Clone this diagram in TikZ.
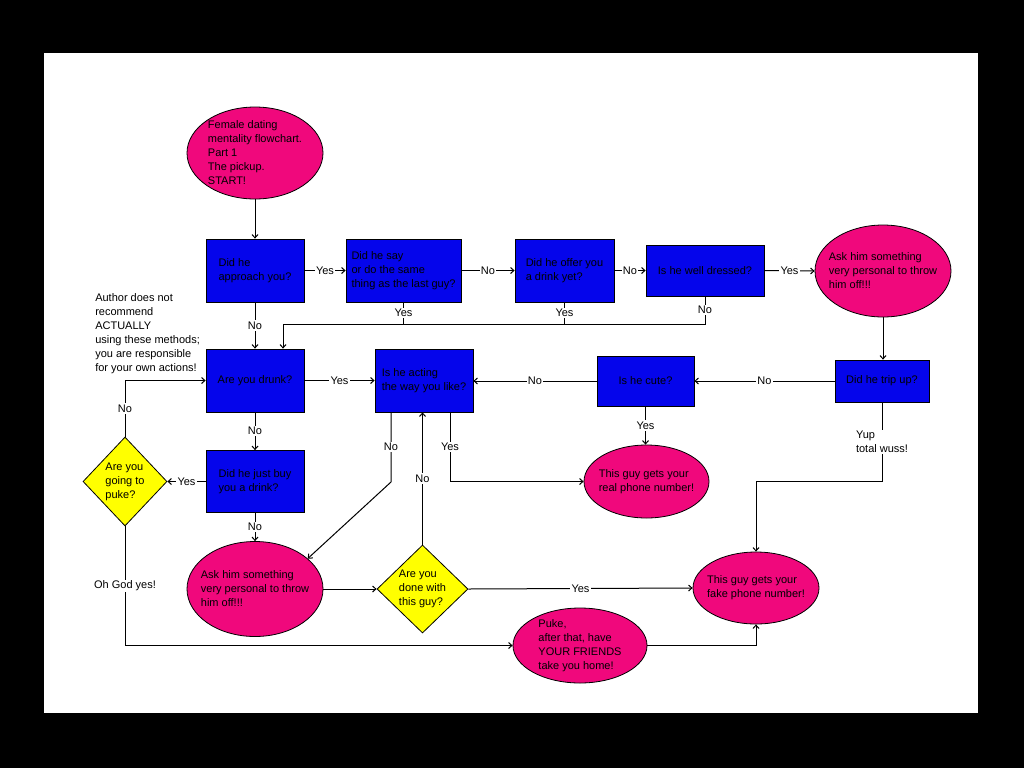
\documentclass[tikz,border=0pt]{standalone}
\usepackage{fontspec}
\setmainfont{Liberation Sans}
\usetikzlibrary{shapes.geometric,arrows.meta,calc}
\definecolor{fcblue}{RGB}{5,5,235}
\definecolor{fcpink}{RGB}{240,8,124}
\definecolor{fcyellow}{RGB}{255,255,0}
\newcommand{\fcfont}{\fontsize{8.25}{10.5}\selectfont}
\tikzset{
  base/.style={draw=black, line width=0.6pt, inner sep=0pt, font=\fcfont, align=left},
  sz/.style 2 args={minimum width=#1*0.75pt, minimum height=#2*0.75pt},
  qbox/.style={base, rectangle, fill=fcblue},
  oval/.style={base, ellipse, fill=fcpink},
  dia/.style={base, diamond, fill=fcyellow},
  ltxt/.style={font=\fcfont, align=left, inner sep=0pt},
  lbl/.style={fill=white, inner sep=1pt, font=\fcfont, align=left},
  con/.style={line width=0.75pt, draw=black},
  arr/.style={con, -{Straight Barb[length=2.5pt,width=4.5pt]}},
  every edge quotes/.style={lbl}
}
\begin{document}
\begin{tikzpicture}[x=0.75pt,y=-0.75pt]
\useasboundingbox (0,0) rectangle (1024,768);
\fill[black] (0,0) rectangle (1024,768);
\fill[white] (44,53) rectangle (978,713);

% nodes
\node[oval, sz={136}{92}, label={[ltxt]center:{Female dating\\mentality flowchart.\\Part 1\\The pickup.\\START!}}] (start) at (255,153) {};
\node[qbox, sz={98}{63}] (b1) at (255,270.5) {Did he\\approach you?};
\node[qbox, sz={115}{63}] (b2) at (403.5,270.5) {Did he say\\or do the same\\thing as the last guy?};
\node[qbox, sz={99}{63}] (b3) at (564.5,270.5) {Did he offer you\\a drink yet?};
\node[qbox, sz={118}{51}] (b4) at (705,270.5) {Is he well dressed?};
\node[oval, sz={136}{92}, label={[ltxt]center:{Ask him something\\very personal to throw\\him off!!!}}] (e2) at (883,271) {};
\node[qbox, sz={94}{42}] (b5) at (882,381) {Did he trip up?};
\node[qbox, sz={98}{63}] (b6) at (255,380.5) {Are you drunk?};
\node[qbox, sz={98}{63}] (b7) at (424,380.5) {Is he acting\\the way you like?};
\node[qbox, sz={97}{50}] (b8) at (645.5,381) {Is he cute?};
\node[oval, sz={125}{73}, label={[ltxt]center:{This guy gets your\\real phone number!}}] (e3) at (646.5,481.5) {};
\node[dia, sz={84}{89}, label={[ltxt]center:{Are you\\going to\\puke?}}] (d1) at (125,481.5) {};
\node[qbox, sz={98}{62}] (b9) at (255,481.5) {Did he just buy\\you a drink?};
\node[oval, sz={136}{95}, label={[ltxt]center:{Ask him something\\very personal to throw\\him off!!!}}] (e4) at (255,589) {};
\node[dia, sz={91}{88}, label={[ltxt]center:{Are you\\done with\\this guy?}}] (d2) at (422.5,589) {};
\node[oval, sz={126}{72}, label={[ltxt]center:{This guy gets your\\fake phone number!}}] (e5) at (756,588) {};
\node[oval, sz={134}{75}, label={[ltxt]center:{Puke,\\after that, have\\YOUR FRIENDS\\take you home!}}] (e6) at (580,645.5) {};
\node[ltxt, anchor=north west] (note) at (95,293) {Author does not\\recommend\\ACTUALLY\\using these methods;\\you are responsible\\for your own actions!};

% helper coordinates
\coordinate (j) at (283,324);
\coordinate (n1) at (391,482);
\coordinate (y2) at (450,481.5);
\coordinate (y1) at (882,481);

% connectors
\draw[arr] (start.south) -- (b1.north);
\draw[arr] (b1.east) -- node[lbl]{Yes} (b2.west);
\draw[arr] (b2.east) -- node[lbl]{No} (b3.west);
\draw[arr] (b3.east) -- node[lbl]{No} (b4.west);
\draw[arr] (b4.east) -- node[lbl]{Yes} (e2.west);
\draw[arr] (e2.south) -- (e2.south |- b5.north);
\draw[arr] (b5.west) -- node[lbl]{No} (b8.east |- b5.west);
\draw[arr] (b8.west) -- node[lbl]{No} (b7.east |- b8.west);
\draw[arr] (b6.east) -- node[lbl]{Yes} (b7.west);
\draw[arr] (b1.south) -- node[lbl]{No} (b6.north -| b1.south);
\draw[arr] (b4.south) -- node[lbl]{No} (b4.south |- j) -- (j) -- (j |- b6.north);
\draw[con] (b2.south) -- node[lbl]{Yes} (b2.south |- j);
\draw[con] (b3.south) -- node[lbl]{Yes} (b3.south |- j);
\draw[arr] (b6.south) -- node[lbl]{No} (b9.north);
\draw[arr] (b9.west) -- node[lbl]{Yes} (d1.east);
\draw[arr] (d1.north) -- node[lbl]{No} (d1.north |- b6.west) -- (b6.west);
\draw[arr] (b9.south) -- node[lbl]{No} (e4.north);
\draw[arr] (e4.east) -- (d2.west);
\draw[arr] (d2.north) -- node[lbl]{No} (d2.north |- b7.south);
\draw[arr] (b7.south -| n1) -- node[lbl]{No} (n1) -- (e4.30);
\draw[arr] (b7.south -| y2) -- node[lbl]{Yes} (y2) -- (e3.west);
\draw[arr] (b8.south) -- node[lbl]{Yes} (b8.south |- e3.north);
\draw[arr] (d2.east) -- node[lbl]{Yes} (e5.west);
\draw[arr] (b5.south) -- node[lbl]{Yup\\total wuss!} (y1) -| (e5.north);
\draw[arr] (d1.south) |- node[lbl, pos=0.25]{Oh God yes!} (e6.west);
\draw[arr] (e6.east) -| (e5.south);
\end{tikzpicture}
\end{document}
